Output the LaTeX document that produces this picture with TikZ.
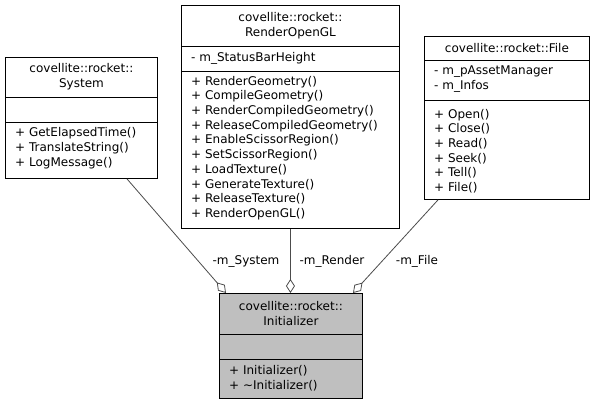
\documentclass[tikz,border=0pt]{standalone}
\usepackage{fontspec}
\setmainfont{DejaVu Sans}
\usetikzlibrary{arrows.meta,calc}
\begin{document}
\begin{tikzpicture}[x=1pt,y=-1pt,
  box/.style={draw=black, line width=0.9pt, anchor=north west, inner sep=0pt, fill=white},
  ttl/.style={align=center, font=\fontsize{12}{14.7}\selectfont, inner sep=0pt},
  mem/.style={align=left, anchor=west, font=\fontsize{12}{14.7}\selectfont, inner sep=0pt},
  sep/.style={draw=black, line width=0.9pt},
  agg/.style={draw=black!70, line width=0.8pt, -{Diamond[open,length=14pt,width=9pt]}},
  lbl/.style={font=\fontsize{12}{14}\selectfont, inner sep=0pt}]
\path[use as bounding box, fill=white] (0,0) rectangle (595,405);

% System
\node[box, minimum width=152pt, minimum height=121pt] (system) at (5,57) {};
\draw[sep] ($(system.north west)+(0,40)$) -- ($(system.north east)+(0,40)$);
\draw[sep] ($(system.north west)+(0,65)$) -- ($(system.north east)+(0,65)$);
\node[ttl] (systemt) at ($(system.north)+(0,20)$) {covellite::rocket::\\System};
\node[mem] (systemm) at ($(system.north west)+(10,91)$) {+ GetElapsedTime()\\+ TranslateString()\\+ LogMessage()};

% RenderOpenGL
\node[box, minimum width=218pt, minimum height=223pt] (render) at (181,5) {};
\draw[sep] ($(render.north west)+(0,41)$) -- ($(render.north east)+(0,41)$);
\draw[sep] ($(render.north west)+(0,66)$) -- ($(render.north east)+(0,66)$);
\node[ttl] (rendert) at ($(render.north)+(0,20.5)$) {covellite::rocket::\\RenderOpenGL};
\node[mem] (rendera) at ($(render.north west)+(10,53.5)$) {- m\_StatusBarHeight};
\node[mem] (renderm) at ($(render.north west)+(10,143)$) {+ RenderGeometry()\\+ CompileGeometry()\\+ RenderCompiledGeometry()\\+ ReleaseCompiledGeometry()\\+ EnableScissorRegion()\\+ SetScissorRegion()\\+ LoadTexture()\\+ GenerateTexture()\\+ ReleaseTexture()\\+ RenderOpenGL()};

% File
\node[box, minimum width=165pt, minimum height=163pt] (file) at (424,36) {};
\draw[sep] ($(file.north west)+(0,24)$) -- ($(file.north east)+(0,24)$);
\draw[sep] ($(file.north west)+(0,64)$) -- ($(file.north east)+(0,64)$);
\node[ttl] (filet) at ($(file.north)+(0,12)$) {covellite::rocket::File};
\node[mem] (filea) at ($(file.north west)+(10,43)$) {- m\_pAssetManager\\- m\_Infos};
\node[mem] (filem) at ($(file.north west)+(10,115)$) {+ Open()\\+ Close()\\+ Read()\\+ Seek()\\+ Tell()\\+ File()};

% Initializer
\node[box, fill=black!25, minimum width=143pt, minimum height=105pt] (init) at (219,293) {};
\draw[sep] ($(init.north west)+(0,41)$) -- ($(init.north east)+(0,41)$);
\draw[sep] ($(init.north west)+(0,66)$) -- ($(init.north east)+(0,66)$);
\node[ttl] (initt) at ($(init.north)+(0,20.5)$) {covellite::rocket::\\Initializer};
\node[mem] (initm) at ($(init.north west)+(10,85)$) {+ Initializer()\\+ \textasciitilde Initializer()};

% Connectors
\draw[agg] ($(system.south west)+(122,0)$) -- ($(init.north west)+(7,0)$);
\draw[agg] (render.south) -- (render.south |- init.north);
\draw[agg] ($(file.south west)+(14,0)$) -- ($(init.north west)+(134,0)$);

\node[lbl] (lsys) at (246,261) {-m\_System};
\node[lbl] (lren) at (332,261) {-m\_Render};
\node[lbl] (lfil) at (417,261) {-m\_File};
\end{tikzpicture}
\end{document}
